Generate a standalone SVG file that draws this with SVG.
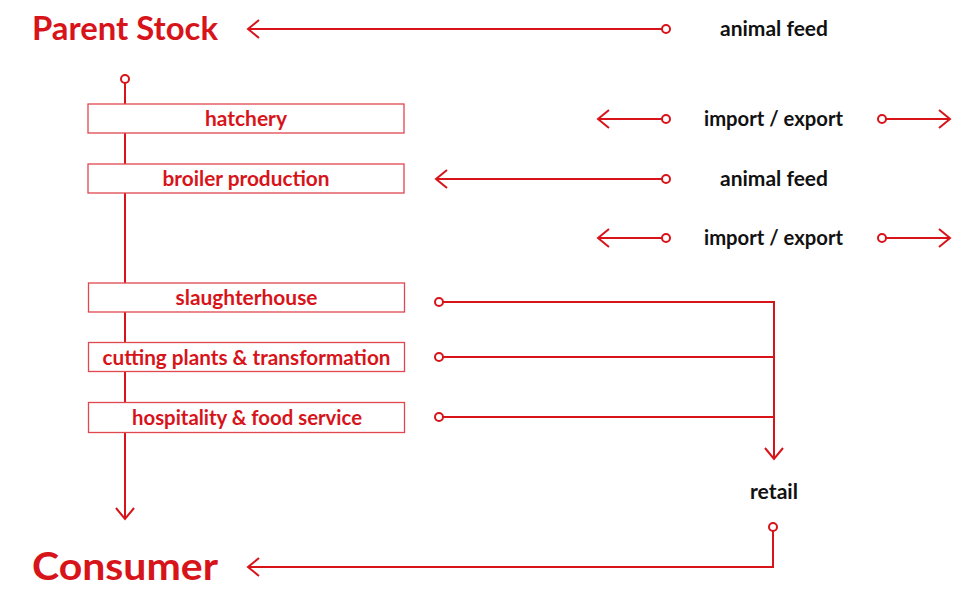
<svg xmlns="http://www.w3.org/2000/svg" width="964" height="592" viewBox="0 0 964 592">
<style>
.t{font-family:Lato,"Liberation Sans",sans-serif;font-weight:700}
.big{font-size:33px;fill:#d7141a}
.lbl{font-size:20px;fill:#111;text-anchor:middle}
.bl{font-size:20px;fill:#d7141a;text-anchor:middle}
.box{fill:#fff;stroke:#e0474f;stroke-width:1.3}
.ln{fill:none;stroke:#d7141a;stroke-width:2}
.dot{fill:#fff;stroke:#d7141a;stroke-width:2}
</style>
<defs>
<marker id="ah" viewBox="0 0 14 20" refX="12" refY="10" markerWidth="14" markerHeight="20" markerUnits="userSpaceOnUse" orient="auto">
<path d="M1,1 L12,10 L1,19" fill="none" stroke="#d7141a" stroke-width="2"/>
</marker>
</defs>
<g id="parent-stock"><text class="t big" x="32" y="40" textLength="186" lengthAdjust="spacingAndGlyphs">Parent Stock</text></g>
<g id="consumer"><text class="t big" x="32" y="580" style="font-size:38px" textLength="186" lengthAdjust="spacingAndGlyphs">Consumer</text></g>
<g id="animal-feed-1"><text class="t lbl" x="774" y="35.5" textLength="108" lengthAdjust="spacingAndGlyphs">animal feed</text></g>
<g id="import-export-1"><text class="t lbl" x="773.5" y="125.5" textLength="139" lengthAdjust="spacingAndGlyphs">import / export</text></g>
<g id="animal-feed-2"><text class="t lbl" x="774" y="185.5" textLength="108" lengthAdjust="spacingAndGlyphs">animal feed</text></g>
<g id="import-export-2"><text class="t lbl" x="773.5" y="244.5" textLength="139" lengthAdjust="spacingAndGlyphs">import / export</text></g>
<g id="retail"><text class="t lbl" x="774" y="498.5" textLength="48" lengthAdjust="spacingAndGlyphs">retail</text></g>
<g id="connectors">
<line class="ln" x1="125" y1="83" x2="125" y2="519" marker-end="url(#ah)"/>
<line class="ln" x1="662" y1="29" x2="248" y2="29" marker-end="url(#ah)"/>
<line class="ln" x1="662" y1="119" x2="598" y2="119" marker-end="url(#ah)"/>
<line class="ln" x1="886" y1="119" x2="950" y2="119" marker-end="url(#ah)"/>
<line class="ln" x1="662" y1="179" x2="436" y2="179" marker-end="url(#ah)"/>
<line class="ln" x1="662" y1="238" x2="598" y2="238" marker-end="url(#ah)"/>
<line class="ln" x1="886" y1="238" x2="950" y2="238" marker-end="url(#ah)"/>
<polyline class="ln" points="443,302 774,302 774,459" marker-end="url(#ah)"/>
<line class="ln" x1="443" y1="357" x2="774" y2="357"/>
<line class="ln" x1="443" y1="417" x2="774" y2="417"/>
<polyline class="ln" points="773,531 773,567 248,567" marker-end="url(#ah)"/>
<circle class="dot" cx="125" cy="79" r="4"/>
<circle class="dot" cx="666" cy="29" r="4"/>
<circle class="dot" cx="666" cy="119" r="4"/>
<circle class="dot" cx="882" cy="119" r="4"/>
<circle class="dot" cx="666" cy="179" r="4"/>
<circle class="dot" cx="666" cy="238" r="4"/>
<circle class="dot" cx="882" cy="238" r="4"/>
<circle class="dot" cx="439" cy="302" r="4"/>
<circle class="dot" cx="439" cy="357" r="4"/>
<circle class="dot" cx="439" cy="417" r="4"/>
<circle class="dot" cx="773" cy="527" r="4"/>
</g>
<g id="hatchery"><rect class="box" x="88" y="104" width="316" height="29"/><text class="t bl" x="246" y="125.5" textLength="82" lengthAdjust="spacingAndGlyphs">hatchery</text></g>
<g id="broiler-production"><rect class="box" x="88" y="164" width="316" height="29"/><text class="t bl" x="246" y="185.5" textLength="167" lengthAdjust="spacingAndGlyphs">broiler production</text></g>
<g id="slaughterhouse"><rect class="box" x="88.5" y="283" width="316" height="29"/><text class="t bl" x="246.5" y="304.5" textLength="142" lengthAdjust="spacingAndGlyphs">slaughterhouse</text></g>
<g id="cutting-plants"><rect class="box" x="88.5" y="342.5" width="316" height="29"/><text class="t bl" x="246.5" y="364.5" textLength="288" lengthAdjust="spacingAndGlyphs">cutting plants &amp; transformation</text></g>
<g id="hospitality"><rect class="box" x="88.5" y="402.5" width="316" height="30"/><text class="t bl" x="247" y="424.5" textLength="230" lengthAdjust="spacingAndGlyphs">hospitality &amp; food service</text></g>
</svg>
